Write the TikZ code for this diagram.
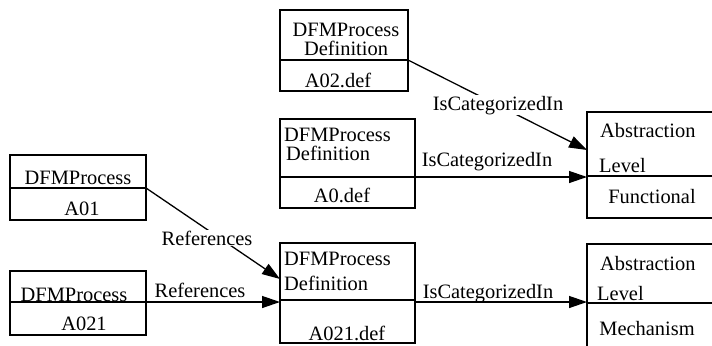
\documentclass[tikz,border=0pt]{standalone}
\usepackage{fontspec}
\setmainfont{Liberation Serif}
\usetikzlibrary{arrows.meta}
\begin{document}
\begin{tikzpicture}[x=1bp,y=-1bp,
  box/.style={draw, line width=1.3bp, anchor=north west, inner sep=0, outer sep=0},
  txt/.style={font=\fontsize{20.5}{22}\selectfont, inner sep=0, anchor=base},
  ltxt/.style={txt, anchor=base west},
  lbl/.style={txt, fill=white, inner sep=1bp},
  conn/.style={line width=1.3bp, -{Triangle[length=18bp,width=12bp]}},
  divline/.style={line width=1.3bp}]
\fill[white] (0,0) rectangle (712,345);
\useasboundingbox (0,0) rectangle (712,345);

% boxes
\node[box, minimum width=128bp, minimum height=81bp] (a02) at (280,10) {};
\draw[divline] (280,60) -- (408,60);
\node[box, minimum width=135bp, minimum height=89bp] (a0) at (280,119) {};
\draw[divline] (280,177) -- (415,177);
\node[box, minimum width=135bp, minimum height=100bp] (a021d) at (280,243) {};
\draw[divline] (280,300) -- (415,300);
\node[box, minimum width=136bp, minimum height=65bp] (a01) at (10,155) {};
\draw[divline] (10,188) -- (146,188);
\node[box, minimum width=136bp, minimum height=64bp] (a021) at (10,271) {};
\draw[divline] (10,302) -- (146,302);
\node[box, minimum width=127bp, minimum height=106bp] (fun) at (587,112) {};
\draw[divline] (587,176) -- (714,176);
\node[box, minimum width=127bp, minimum height=112bp] (mech) at (587,244) {};
\draw[divline] (587,303) -- (714,303);

% attachment points
\coordinate (a02r) at (408,60);
\coordinate (funa) at (587,150);
\coordinate (a0r) at (415,177);
\coordinate (funb) at (587,177);
\coordinate (a01r) at (146,188);
\coordinate (a021da) at (280,279);
\coordinate (a021r) at (146,302);
\coordinate (a021db) at (280,302);
\coordinate (a021dr) at (415,302);
\coordinate (mechl) at (587,302);

% connectors
\draw[conn] (a02r) -- (funa);
\draw[conn] (a0r) -- (funb);
\draw[conn] (a01r) -- (a021da);
\draw[conn] (a021r) -- (a021db);
\draw[conn] (a021dr) -- (mechl);

% connector labels
\node[lbl] (l1) at (207,245) {References};
\node[txt] (l2) at (200,297) {References};
\node[lbl] (l3) at (498,110) {IsCategorizedIn};
\node[txt] (l4) at (487,166) {IsCategorizedIn};
\node[txt] (l5) at (488,298) {IsCategorizedIn};

% box texts
\node[txt] (t1) at (346,36) {DFMProcess};
\node[txt] (t2) at (346,55) {Definition};
\node[txt] (t3) at (338,87) {A02.def};

\node[ltxt] (t4) at (284,141) {DFMProcess};
\node[ltxt] (t5) at (286,160) {Definition};
\node[txt] (t6) at (342,202) {A0.def};

\node[ltxt] (t7) at (284,265) {DFMProcess};
\node[ltxt] (t8) at (284,290) {Definition};
\node[txt] (t9) at (347,340) {A021.def};

\node[txt] (t10) at (78,184) {DFMProcess};
\node[txt] (t11) at (82,215) {A01};

\node[txt] (t12) at (74,301) {DFMProcess};
\node[txt] (t13) at (84,330) {A021};

\node[ltxt] (t14) at (600,137) {Abstraction};
\node[ltxt] (t15) at (599,172) {Level};
\node[txt] (t16) at (652,203) {Functional};

\node[ltxt] (t17) at (600,270) {Abstraction};
\node[ltxt] (t18) at (597,300) {Level};
\node[txt] (t19) at (647,335) {Mechanism};
\end{tikzpicture}
\end{document}
